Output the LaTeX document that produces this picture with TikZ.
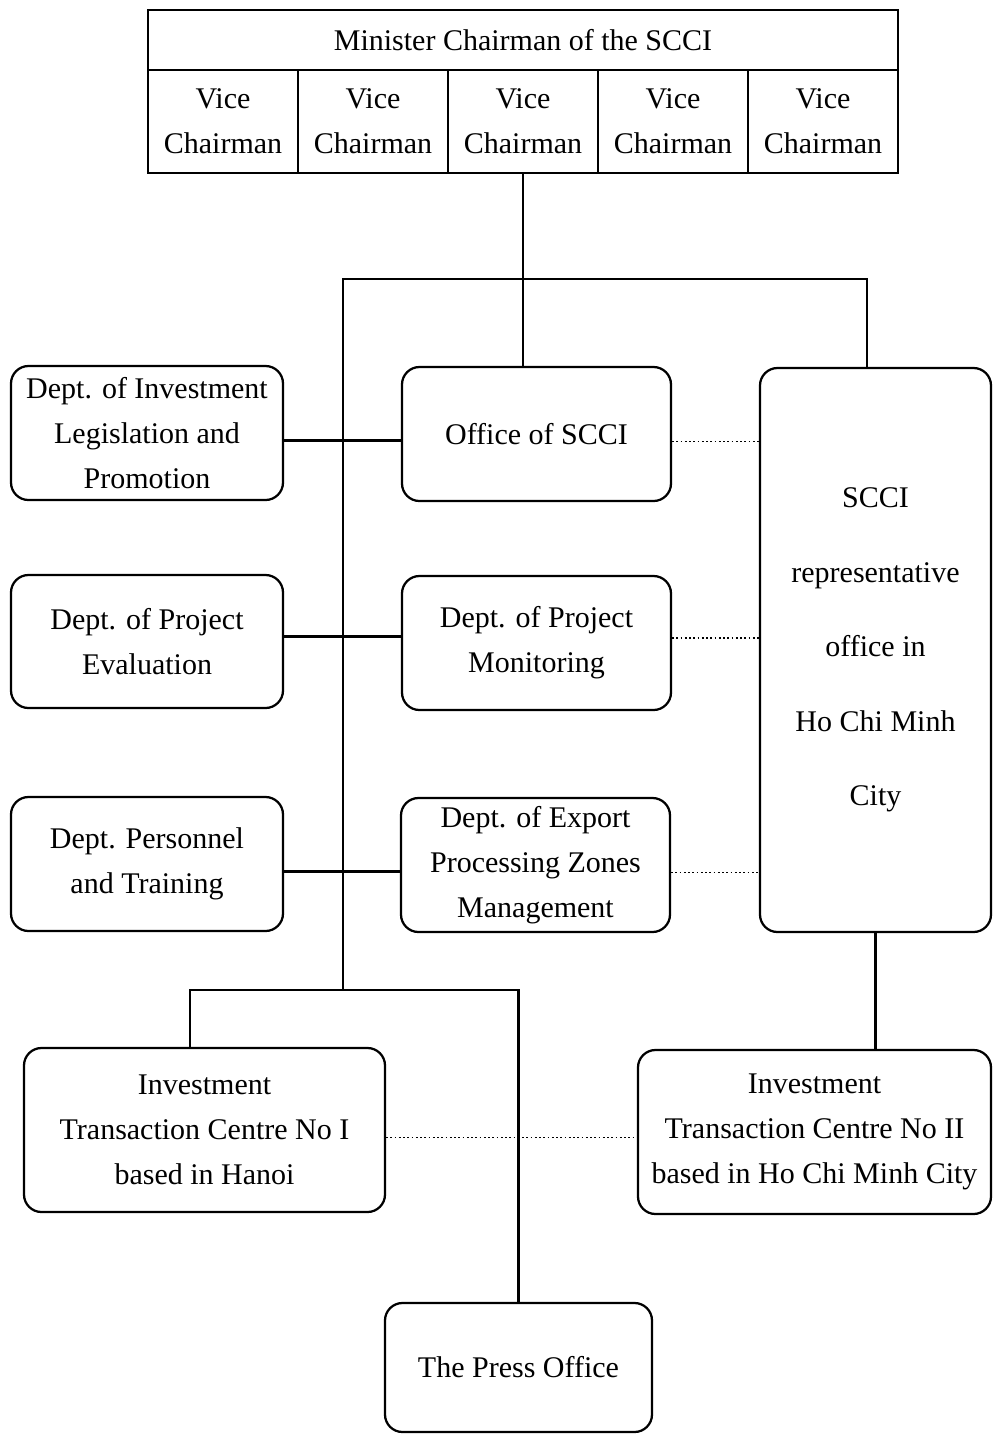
\documentclass[tikz,border=0pt]{standalone}
\usepackage{fontspec}
\setmainfont{Liberation Serif}
\usetikzlibrary{positioning,calc}

\begin{document}
\begin{tikzpicture}
[x=0.4pt,y=-0.4pt,
font=\fontsize{12}{18}\selectfont,
%
cell/.style={shape=rectangle,draw=black,line width=0.9pt,align=center,inner sep=0pt},
unit/.style={cell,rounded corners=7pt},
dims/.style 2 args={minimum width=#1*0.4pt,minimum height=#2*0.4pt},
%
link/.style={black,line width=0.9pt},
liaison/.style={black,densely dotted,line width=0.7pt}]
%
\useasboundingbox (0,0) rectangle (993,1435);
%
% chairman and vice chairmen
\node (chair) [cell,dims={750}{60}] at (523,40) {Minister Chairman of the SCCI};
\foreach \i in {1,...,5}
\node (vc\i) [cell,dims={150}{103}] at (73+150*\i,121.5) {Vice\\Chairman};
%
% departments
\node (legis) [unit,dims={272}{134}] at (147,433) {Dept. of Investment\\Legislation and\\Promotion};
\node (office) [unit,dims={269}{134}] at (536.5,434) {Office of SCCI};
\node (evaluation) [unit,dims={272}{133}] at (147,641.5) {Dept. of Project\\Evaluation};
\node (monitor) [unit,dims={269}{134}] at (536.5,643) {Dept. of Project\\Monitoring};
\node (personnel) [unit,dims={272}{134}] at (147,864) {Dept. Personnel\\and Training};
\node (export) [unit,dims={269}{134}] at (535.5,865) {Dept. of Export\\Processing Zones\\Management};
% representative office
\node (rep) [unit,dims={231}{564},font=\fontsize{12}{29.8}\selectfont] at (875.5,650)
  {SCCI\\representative\\office in\\Ho Chi Minh\\City};
% transaction centres
\node (itc1) [unit,dims={361}{164}] at (204.5,1130) {Investment\\Transaction Centre No I\\based in Hanoi};
\node (itc2) [unit,dims={353}{164}] at (814.5,1132) {Investment\\Transaction Centre No II\\based in Ho Chi Minh City};
\node (press) [unit,dims={267}{129}] at (518.5,1367.5) {The Press Office};
%
% buses
\coordinate (busL) at (343,279);
\coordinate (busR) at (867,279);
\coordinate (busB) at (343,990);
\coordinate (forkL) at (190,990);
\draw[link] (vc3.south) -- (vc3.south |- office.north);
\draw[link] (busR |- rep.north) -- (busR) -- (busL) -- (busB);
\draw[link] (forkL |- itc1.north) -- (forkL) -- (forkL -| press.north) -- (press.north);
\draw[link] (rep.south) -- (rep.south |- itc2.north);
% side links
\draw[link]
([yshift=-3pt]legis.east) -- ([yshift=-3pt]legis.east -| office.west)
([yshift=2pt]evaluation.east) -- ([yshift=2pt]evaluation.east -| monitor.west)
([yshift=-3pt]personnel.east) -- ([yshift=-3pt]personnel.east -| export.west);
\draw[liaison]
([yshift=-3pt]office.east) -- ([yshift=-3pt]office.east -| rep.west)
([yshift=2pt]monitor.east) -- ([yshift=2pt]monitor.east -| rep.west)
([yshift=-3pt]export.east) -- ([yshift=-3pt]export.east -| rep.west)
([yshift=-3pt]itc1.east) -- ([yshift=-3pt]itc1.east -| itc2.west);
\end{tikzpicture}
\end{document}
